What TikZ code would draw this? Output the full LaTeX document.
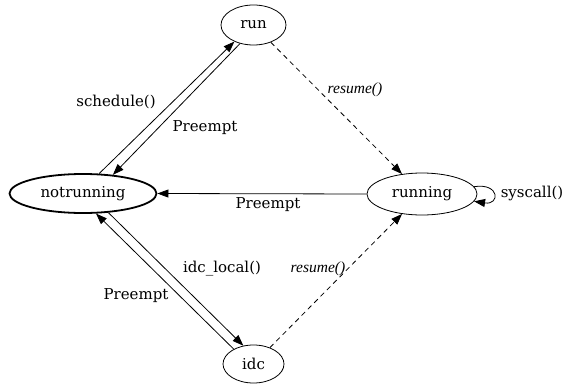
\documentclass[tikz,border=0pt]{standalone}
\usepackage{fontspec}
\setmainfont{DejaVu Serif}
\newfontfamily\lsf{Liberation Serif}
\usetikzlibrary{shapes.geometric,arrows.meta}
\begin{document}
\begin{tikzpicture}[x=1pt,y=-1pt,
  state/.style={draw,ellipse,line width=0.8pt,inner sep=0pt,font=\fontsize{15}{17}\selectfont},
  lbl/.style={inner sep=0pt,font=\fontsize{15}{17}\selectfont},
  ilbl/.style={inner sep=0pt,font=\fontsize{15.5}{17}\selectfont\lsf\itshape},
  edge/.style={line width=0.8pt,-{Triangle[length=11pt,width=8pt]}},
  dedge/.style={edge,dash pattern=on 5pt off 4pt}]
\useasboundingbox (0,0) rectangle (564,385);
\node[state,minimum width=65pt,minimum height=40pt] (run) at (253.5,25) {run};
\node[state,line width=1.8pt,minimum width=147pt,minimum height=39pt] (notrunning) at (83,193.5) {notrunning};
\node[state,minimum width=110pt,minimum height=42pt] (running) at (422,194) {running};
\node[state,minimum width=61pt,minimum height=38pt] (idc) at (253.5,364) {idc};
\draw[edge] (notrunning.51.7) -- (run.221.3);
\draw[edge] (run.234.6) -- (notrunning.32.7);
\draw[edge] (running.west) -- (notrunning.east);
\draw[edge] (notrunning.323.1) -- (idc.119);
\draw[edge] (idc.143.3) -- (notrunning.303.1);
\draw[dedge] (run.315.8) -- (running.135);
\draw[dedge] (idc.45.9) -- (running.225);
\draw[edge] (running.8) .. controls +(26,-4) and +(26,4) .. (running.-8);
\node[lbl] (l1) at (116,102) {schedule()};
\node[lbl] (l2) at (205,128) {Preempt};
\node[lbl] (l3) at (268,205) {Preempt};
\node[lbl] (l4) at (222,269) {idc\_local()};
\node[lbl] (l5) at (136,296) {Preempt};
\node[ilbl] (l6) at (355,90) {resume()};
\node[ilbl] (l7) at (318,269) {resume()};
\node[lbl] (l8) at (532,193) {syscall()};
\end{tikzpicture}
\end{document}
